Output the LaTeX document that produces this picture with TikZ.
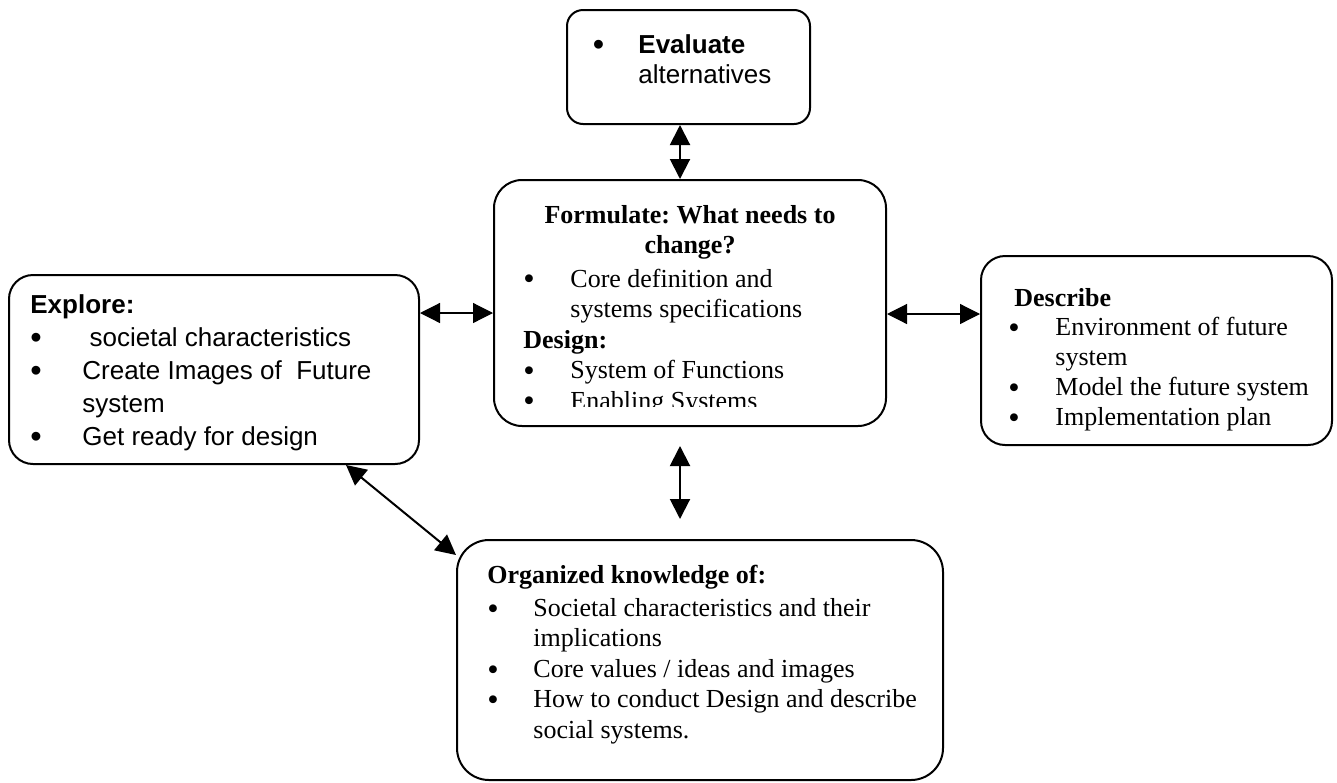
\documentclass[tikz,border=0pt]{standalone}
\usepackage{fontspec}
\usepackage{graphicx}
\setmainfont{Liberation Serif}
\newfontfamily\arialfont{Liberation Sans}
\usetikzlibrary{arrows.meta, calc}
\newcommand{\blt}{\smash{\raisebox{-1.4pt}{\scalebox{1.25}{\textbullet}}}}
\frenchspacing

\begin{document}
\begin{tikzpicture}[
    x=0.5pt, y=-0.5pt,
    panel/.style={draw, line width=1pt, inner sep=0pt, rounded corners=#1},
    panel/.default=12pt,
    txt/.style={anchor=base west, inner sep=0pt},
    sans/.style={txt, font=\arialfont\fontsize{13}{#1}\selectfont},
    serif/.style={txt, font=\fontsize{13}{#1}\selectfont},
    link/.style={{Triangle[length=10pt,width=10pt]}-{Triangle[length=10pt,width=10pt]},
                 line width=1pt},
    thinlink/.style={link, line width=0.6pt}
  ]
  \useasboundingbox (0,0) rectangle (1337,782);

  % boxes
  \node[panel=8pt, minimum width=121.5pt, minimum height=57pt] (evaluate) at (688.5,67) {};
  \node[panel=14pt, minimum width=196pt, minimum height=123pt] (formulate) at (690,303) {};
  \node[panel, minimum width=205pt, minimum height=94.5pt] (explore) at (214,369.5) {};
  \node[panel, minimum width=175.5pt, minimum height=94.5pt] (describe) at (1156.5,350.5) {};
  \node[panel=16pt, minimum width=243pt, minimum height=120pt] (organized) at (700,660) {};

  % texts
  \node[sans=15pt] (evaluatetxt) at (592.5,53) {\begin{tabular}[t]{@{}p{22.75pt}@{}l@{}}
    \blt & \textbf{Evaluate}\\
         & alternatives
  \end{tabular}};

  \node[sans=16.5pt] (exploretxt) at (30,313) {\begin{tabular}[t]{@{}p{26pt}@{}l@{}}
    \multicolumn{2}{@{}l@{}}{\textbf{Explore:}}\\
    \blt & \ societal characteristics\\
    \blt & Create Images of\ \ Future\\
         & system\\
    \blt & Get ready for design
  \end{tabular}};

  \node[anchor=base, inner sep=0pt, font=\bfseries\fontsize{13}{15}\selectfont]
    (formulatehead) at (690,223) {\begin{tabular}[t]{@{}c@{}}
    Formulate: What needs to\\
    change?
  \end{tabular}};
  \begin{scope}
    \clip (494,180) rectangle (886,406);
    \node[serif=15.25pt] (formulatetxt) at (523,287) {\begin{tabular}[t]{@{}p{23.5pt}@{}l@{}}
      \blt & Core definition and\\
           & systems specifications\\
      \multicolumn{2}{@{}l@{}}{\textbf{Design:}}\\
      \blt & System of Functions\\
      \blt & Enabling Systems
    \end{tabular}};
  \end{scope}

  \node[serif=14.9pt] (describetxt) at (1008,306) {\begin{tabular}[t]{@{}p{23.5pt}@{}l@{}}
    \multicolumn{2}{@{}l@{}}{\hspace*{3pt}\textbf{Describe}}\\
    \blt & Environment of future\\
         & system\\
    \blt & Model the future system\\
    \blt & Implementation plan
  \end{tabular}};

  \node[serif=15.2pt] (organizedtxt) at (487,583) {\begin{tabular}[t]{@{}p{23pt}@{}l@{}}
    \multicolumn{2}{@{}l@{}}{\textbf{Organized knowledge of:}}\\[1.5pt]
    \blt & Societal characteristics and their\\
         & implications\\
    \blt & Core values / ideas and images\\
    \blt & How to conduct Design and describe\\
         & social systems.
  \end{tabular}};

  % connectors
  \draw[link] ([xshift=-4.25pt]evaluate.south) -- ([xshift=-4.25pt]evaluate.south |- formulate.north);
  \draw[thinlink] ([yshift=28.25pt]explore.east) -- ([yshift=28.25pt]explore.east -| formulate.west);
  \draw[thinlink] ([yshift=-5.5pt]formulate.east) -- ([yshift=-5.5pt]formulate.east -| describe.west);
  \draw[link, shorten <=9.5pt, shorten >=10pt]
    ([xshift=-5pt]formulate.south) -- ([xshift=-5pt]formulate.south |- organized.north);
  \draw[link] ([xshift=66pt]explore.south) -- ([yshift=-8pt]organized.north west);
\end{tikzpicture}
\end{document}
